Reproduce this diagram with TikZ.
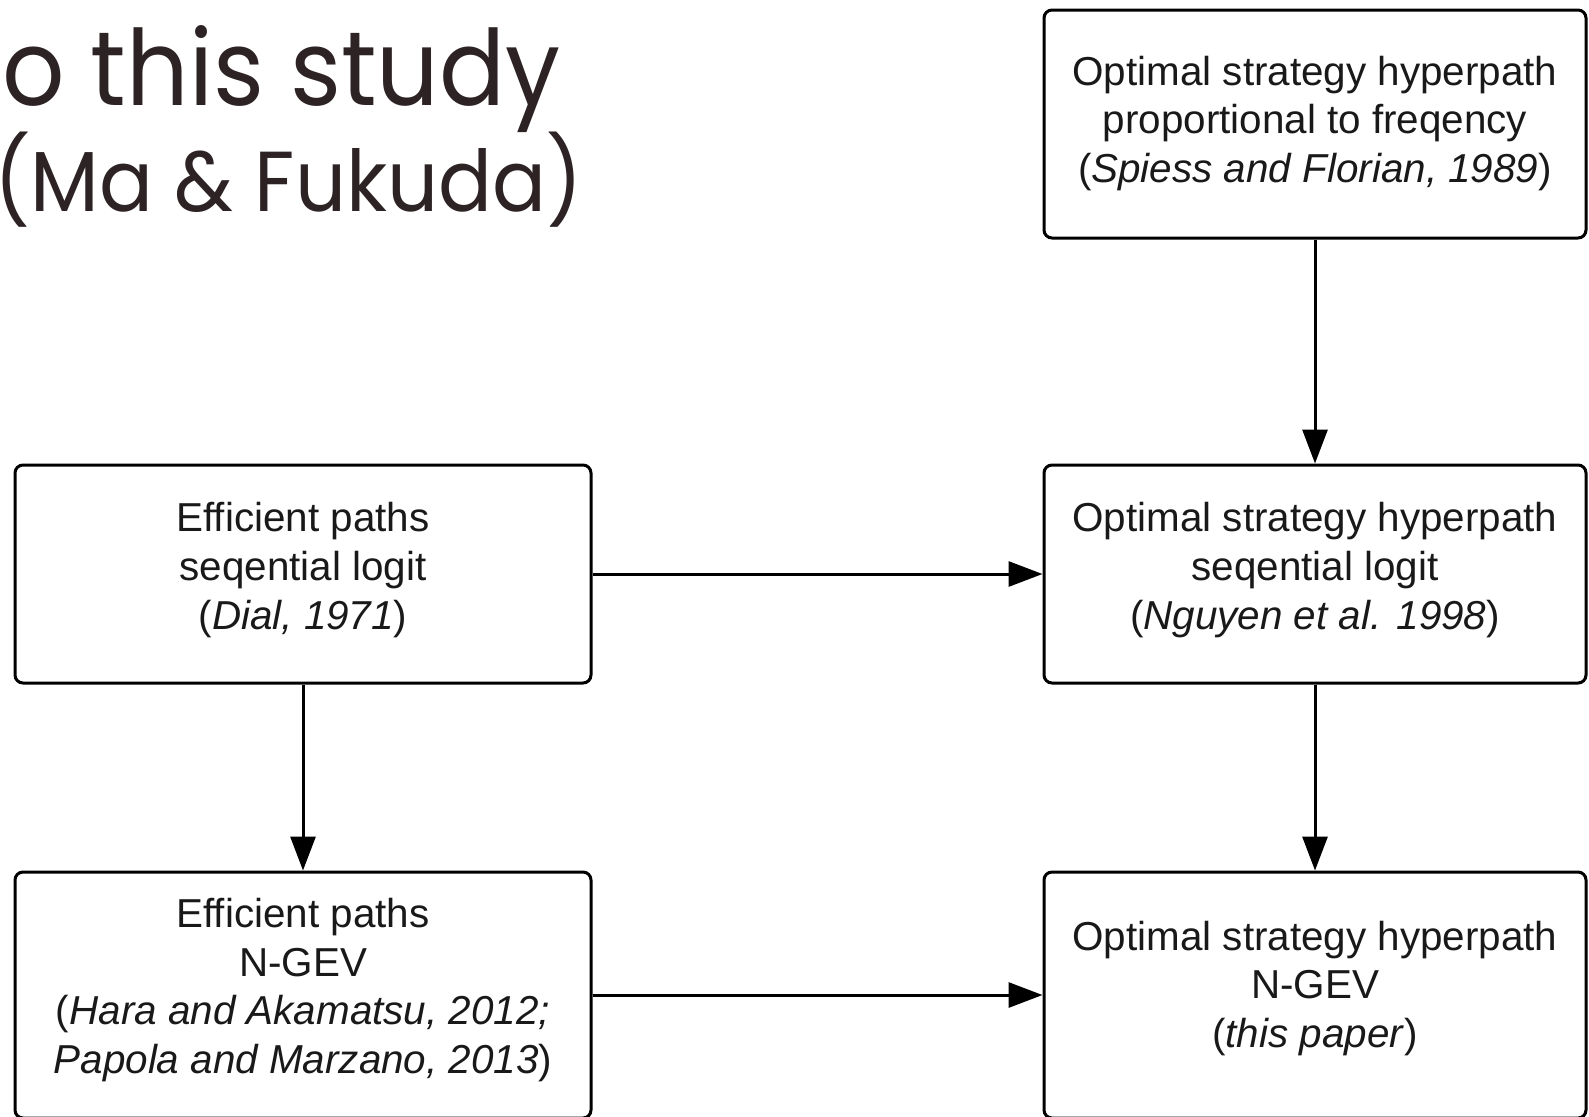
\documentclass[tikz,border=0pt]{standalone}
\usepackage{fontspec}
\setmainfont{Liberation Sans}
\newfontfamily\titlefont{Poppins}
\usetikzlibrary{arrows.meta}
\definecolor{titlecol}{RGB}{45,35,37}
\definecolor{txtcol}{RGB}{25,25,25}
\begin{document}
\begin{tikzpicture}[x=0.5pt,y=-0.5pt,
  box/.style={draw=black, line width=1.5pt, rounded corners=4pt, inner sep=0pt},
  lbl/.style={inner sep=0pt, align=center, text=txtcol, font=\fontsize{20.2pt}{24.45pt}\selectfont},
  arr/.style={line width=1.5pt, -{Triangle[length=17pt,width=12.5pt]}},
  ttl/.style={inner sep=0pt, anchor=base west, text=titlecol, font=\titlefont}]
\useasboundingbox (0,0) rectangle (1589,1116);
\clip (0,0) rectangle (1589,1116);
\fill[white] (0,0) rectangle (1589,1116);
% title
\node[ttl] (t1) at (2,105) {\resizebox{279pt}{40pt}{o this study}};
\node[ttl] (t2) at (-6,211) {\resizebox{294pt}{31.5pt}{\smash{(}Ma \& Fukuda\smash{)}}};
% boxes
\node[box, minimum width=271pt, minimum height=114pt] (b1) at (1315,124) {};
\node[box, minimum width=288pt, minimum height=109pt] (b2) at (303,574) {};
\node[box, minimum width=271pt, minimum height=109pt] (b3) at (1315,574) {};
\node[box, minimum width=288pt, minimum height=123pt] (b4) at (303,995) {};
\node[box, minimum width=271pt, minimum height=123pt] (b5) at (1315,995) {};
% labels
\node[lbl] (l1) at (1315,123.5) {Optimal strategy hyperpath\\proportional to freqency\\(\textit{Spiess and Florian, 1989})};
\node[lbl] (l2) at (303,570) {Efficient paths\\seqential logit\\(\textit{Dial, 1971})};
\node[lbl] (l3) at (1315,570) {Optimal strategy hyperpath\\seqential logit\\(\textit{Nguyen et al. 1998})};
\node[lbl] (l4) at (303,990) {Efficient paths\\N-GEV\\(\textit{Hara and Akamatsu, 2012;}\\\textit{Papola and Marzano, 2013})};
\node[lbl] (l5) at (1315,988.5) {Optimal strategy hyperpath\\N-GEV\\(\textit{this paper})};
% connectors
\draw[arr] (b1) -- (b3);
\draw[arr] (b2) -- (b3);
\draw[arr] (b2) -- (b4);
\draw[arr] (b3) -- (b5);
\draw[arr] (b4) -- (b5);
\end{tikzpicture}
\end{document}
